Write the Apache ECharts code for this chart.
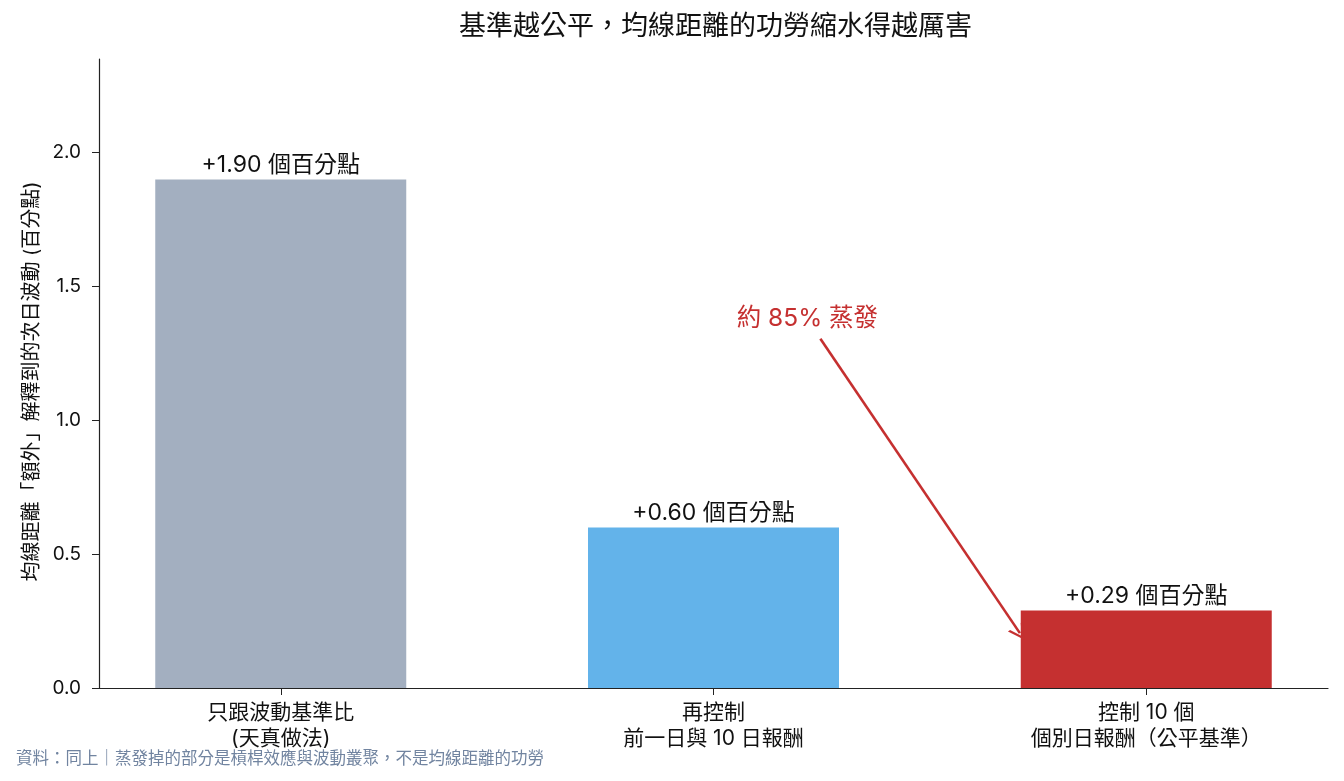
<!DOCTYPE html>
<html>
<head>
<meta charset="utf-8">
<script src="https://cdn.jsdelivr.net/npm/echarts@6/dist/echarts.min.js"></script>
<style>
  html, body { margin: 0; padding: 0; background: #fff; }
  #main { width: 1344px; height: 781px; }
</style>
</head>
<body>
<div id="main"></div>
<script>
var categories = ['只跟波動基準比\n(天真做法)', '再控制\n前一日與 10 日報酬', '控制 10 個\n個別日報酬（公平基準）'];
var values = [1.90, 0.60, 0.29];
var barColors = ['#a3afc0', '#63b3ea', '#c53030'];
var yTicks = [0, 0.5, 1.0, 1.5, 2.0];
// annotation arrow, in data units
var arrowFrom = [1.247, 1.305];
var arrowTo = [1.708, 0.205];
var noteAt = [1.217, 1.38];
var noteText = '約 85% 蒸發';

var font = 'Inter, "Noto Sans CJK TC", sans-serif';
var dom = document.getElementById('main');
var myChart = echarts.init(dom);

var barData = [];
for (var i = 0; i < values.length; i++) {
    barData.push({ value: [i, values[i]], itemStyle: { color: barColors[i] } });
}

var option = {
    backgroundColor: '#fff',
    animation: false,
    textStyle: { fontFamily: font },
    title: {
        text: '基準越公平，均線距離的功勞縮水得越厲害',
        left: 454,
        top: 8,
        textStyle: { fontFamily: font, fontSize: 27, fontWeight: 'normal', color: '#111' }
    },
    grid: { left: 99, right: 16, top: 59, bottom: 93 },
    xAxis: {
        type: 'value',
        min: -0.42,
        max: 2.42,
        splitLine: { show: false },
        axisLine: { show: true, onZero: false, lineStyle: { color: '#222', width: 1.2 } },
        axisTick: { show: true, length: 7, customValues: [0, 1, 2], lineStyle: { color: '#222' } },
        axisLabel: {
            customValues: [0, 1, 2],
            formatter: function (v) { return categories[Math.round(v)]; },
            fontSize: 21, color: '#111', lineHeight: 26, margin: 12, fontFamily: font
        }
    },
    yAxis: {
        type: 'value',
        min: 0,
        max: 2.35,
        name: '均線距離「額外」解釋到的次日波動 (百分點)',
        nameLocation: 'middle',
        nameGap: 55,
        nameTextStyle: { fontSize: 20, color: '#111', fontFamily: font, padding: [0, 16, 0, 0] },
        splitLine: { show: false },
        axisLine: { show: true, onZero: false, lineStyle: { color: '#222', width: 1.2 } },
        axisTick: { show: true, length: 7, customValues: yTicks, lineStyle: { color: '#222' } },
        axisLabel: {
            customValues: yTicks,
            formatter: function (v) { return v.toFixed(1); },
            fontSize: 19, color: '#111', margin: 18, fontFamily: font
        }
    },
    series: [{
        type: 'bar',
        data: barData,
        barWidth: 251,
        label: {
            show: true,
            position: 'top',
            distance: 3,
            fontSize: 23,
            color: '#111',
            fontFamily: font,
            formatter: function (p) { return '+' + p.value[1].toFixed(2) + ' 個百分點'; }
        },
        markLine: {
            silent: true,
            symbol: ['none', 'path://M0,0 L7,12 L5,12 L0,3.5 L-5,12 L-7,12 Z'],
            symbolSize: [18, 16],
            label: { show: false },
            lineStyle: { color: '#c53030', width: 2.6, type: 'solid' },
            data: [[{ coord: arrowFrom }, { coord: arrowTo }]]
        },
        markPoint: {
            silent: true,
            symbol: 'circle',
            symbolSize: 0,
            label: {
                show: true,
                formatter: noteText,
                color: '#c53030',
                fontSize: 24.5,
                fontFamily: font
            },
            data: [{ coord: noteAt }]
        }
    }],
    graphic: [{
        type: 'text',
        left: 16,
        top: 751,
        style: {
            text: '資料：同上｜蒸發掉的部分是槓桿效應與波動叢聚，不是均線距離的功勞',
            fill: '#7184a0',
            fontSize: 16.5,
            fontFamily: font
        }
    }]
};
myChart.setOption(option);
</script>
</body>
</html>
